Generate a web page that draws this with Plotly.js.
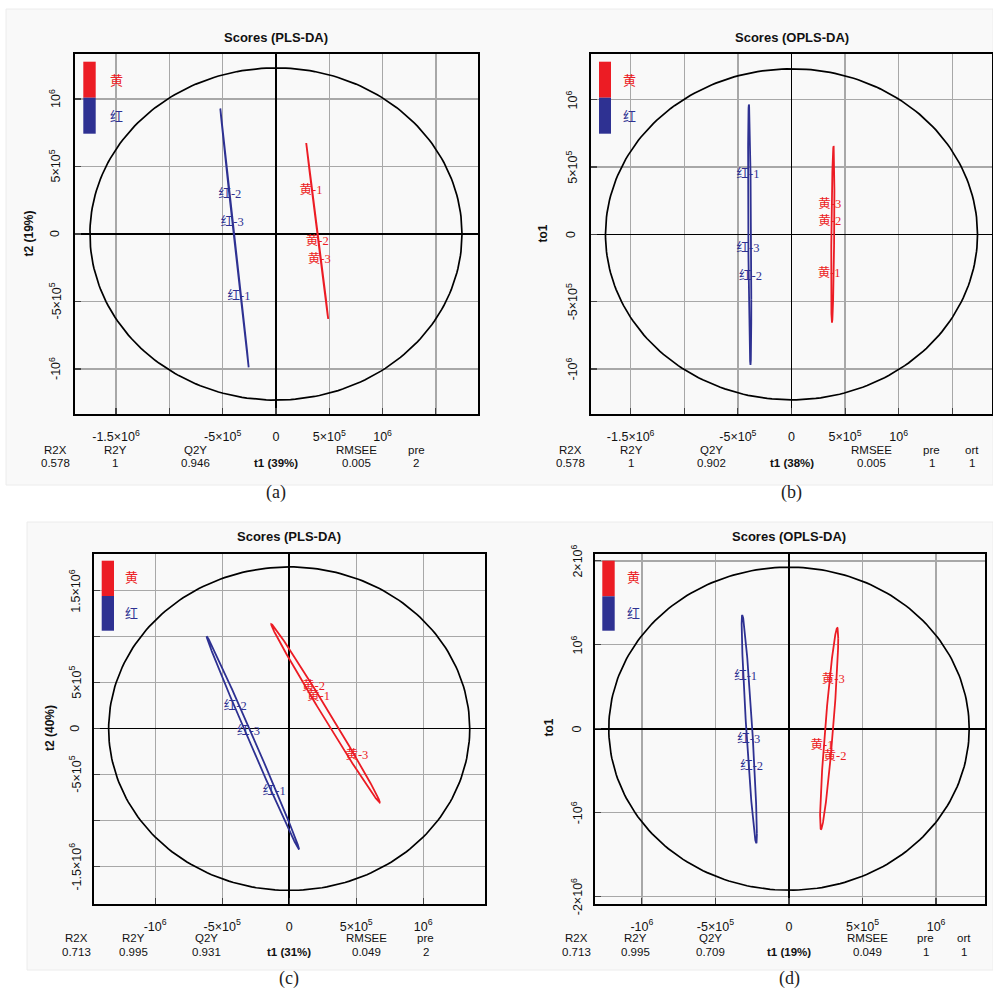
<!DOCTYPE html>
<html>
<head>
<meta charset="utf-8">
<script src="https://cdn.plot.ly/plotly-3.0.1.min.js"></script>
<style>html,body{margin:0;padding:0;background:#fff;}#chart{width:993px;height:990px;}</style>
</head>
<body>
<div id="chart"></div>
<script>
// ---------------- DATA ----------------
const panelTitles = ['Scores (PLS-DA)', 'Scores (OPLS-DA)', 'Scores (PLS-DA)', 'Scores (OPLS-DA)'];
const yTitles = ['t2 (19%)', 'to1', 't2 (40%)', 'to1'];
const xTitles = ['t1 (39%)', 't1 (38%)', 't1 (31%)', 't1 (19%)'];
const captions = ['(a)', '(b)', '(c)', '(d)'];
const groupNames = ['黄', '红'];

// sample scores (label positions)
const yellowLabels = ['黄-1', '黄-2', '黄-3'];
const redLabels = ['红-1', '红-2', '红-3'];
const a_yellow_x = [3.28e5, 3.88e5, 4.06e5];
const a_yellow_y = [3.20e5, -0.61e5, -1.92e5];
const a_red_x = [-3.47e5, -4.32e5, -4.10e5];
const a_red_y = [-4.68e5, 2.93e5, 0.83e5];
const b_yellow_x = [3.51e5, 3.57e5, 3.57e5];
const b_yellow_y = [-2.95e5, 0.94e5, 2.18e5];
const b_red_x = [-4.05e5, -3.82e5, -4.05e5];
const b_red_y = [4.40e5, -3.15e5, -1.09e5];
const c_yellow_x = [2.19e5, 1.81e5, 5.05e5];
const c_yellow_y = [3.41e5, 4.57e5, -2.93e5];
const c_red_x = [-1.12e5, -4.03e5, -3.04e5];
const c_red_y = [-6.91e5, 2.33e5, -0.39e5];
const d_yellow_x = [2.24e5, 3.13e5, 3.01e5];
const d_yellow_y = [-2.02e5, -3.37e5, 5.80e5];
const d_red_x = [-2.95e5, -2.54e5, -2.74e5];
const d_red_y = [6.19e5, -4.52e5, -1.35e5];

// group confidence ellipses: [centerX, centerY, halfRangeX, halfRangeY, correlation]
const a_yellow_ell = [3.87e5, 0.23e5, 1.03e5, 6.51e5, -0.9995];
const a_red_ell = [-3.89e5, -0.295e5, 1.33e5, 9.58e5, -0.9995];
const b_yellow_ell = [3.85e5, 0, 0.15e5, 6.56e5, 0.5];
const b_red_ell = [-3.90e5, -0.03e5, 0.15e5, 9.68e5, -0.5];
const c_yellow_ell = [2.71e5, 1.67e5, 4.05e5, 9.70e5, -0.9971];
const c_red_ell = [-2.71e5, -1.55e5, 3.45e5, 11.6e5, -0.9982];
const d_yellow_ell = [2.73e5, 0.02e5, 0.618e5, 12.0e5, 0.898];
const d_red_ell = [-2.70e5, -0.05e5, 0.517e5, 13.6e5, -0.918];

// Hotelling T2 ellipses: [halfX, halfY]
const hotelling = [[1.745e6, 1.23e6], [1.735e6, 1.23e6], [1.347e6, 1.76e6], [1.225e6, 1.925e6]];

// axis ranges
const xRanges = [[-1.885e6, 1.895e6], [-1.87e6, 1.87e6], [-1.46e6, 1.457e6], [-1.322e6, 1.329e6]];
const yRanges = [[-1.333e6, 1.333e6], [-1.335e6, 1.34e6], [-1.902e6, 1.906e6], [-2.083e6, 2.088e6]];

// ticks
const xTickValsAB = [-1.5e6, -1e6, -5e5, 0, 5e5, 1e6, 1.5e6];
const xTickTextAB = ['-1.5×10<sup>6</sup>', ' ', '-5×10<sup>5</sup>', '0', '5×10<sup>5</sup>', '10<sup>6</sup>', ' '];
const yTickValsAB = [-1e6, -5e5, 0, 5e5, 1e6];
const yTickTextAB = ['-10<sup>6</sup>', '-5×10<sup>5</sup>', '0', '5×10<sup>5</sup>', '10<sup>6</sup>'];
const xTickValsCD = [-1e6, -5e5, 0, 5e5, 1e6];
const xTickTextCD = ['-10<sup>6</sup>', '-5×10<sup>5</sup>', '0', '5×10<sup>5</sup>', '10<sup>6</sup>'];
const yTickValsC = [-1.5e6, -1e6, -5e5, 0, 5e5, 1e6, 1.5e6];
const yTickTextC = ['-1.5×10<sup>6</sup>', '', '-5×10<sup>5</sup>', '0', '5×10<sup>5</sup>', '', '1.5×10<sup>6</sup>'];
const yTickValsD = [-2e6, -1e6, 0, 1e6, 2e6];
const yTickTextD = ['-2×10<sup>6</sup>', '-10<sup>6</sup>', '0', '10<sup>6</sup>', '2×10<sup>6</sup>'];

// model summary
const statNamesPLS = ['R2X', 'R2Y', 'Q2Y', 'RMSEE', 'pre'];
const statNamesOPLS = ['R2X', 'R2Y', 'Q2Y', 'RMSEE', 'pre', 'ort'];
const a_stats = ['0.578', '1', '0.946', '0.005', '2'];
const b_stats = ['0.578', '1', '0.902', '0.005', '1', '1'];
const c_stats = ['0.713', '0.995', '0.931', '0.049', '2'];
const d_stats = ['0.713', '0.995', '0.709', '0.049', '1', '1'];

// ---------------- STYLE / LAYOUT ----------------
const W = 993, H = 990;
const YEL = '#ec1c24', RED = '#2e3192';
const px = x => x / W;
const py = y => 1 - y / H;

// plot boxes in pixels [left, right, top, bottom]
const boxes = [[75, 478, 54, 414], [591, 992, 54, 414], [93.5, 484.5, 553.5, 903.5], [594.5, 984.5, 553.5, 903.5]];
const yLabelXs = [55, 571.7, 75, 576.7];
const statXs = [[55, 115, 195.7, 356, 416], [570, 631, 711, 871.7, 931.7, 971.7], [76, 133.3, 206.7, 366.7, 425.7], [576, 635, 710, 867.3, 925.7, 964]];
const titleXs = [276, 791.5, 288.8, 789];
const zeroXs = [276, 791.7, 289, 789];
const rowYs = [[37.3, 450, 463.3, 492, 234], [37.3, 450, 463.3, 492, 234], [536, 938.3, 951.7, 978, 728], [536, 938.3, 951.7, 978, 728]];
const yTitleXs = [28.5, 542.5, 50, 548.5];
const legendX = [[83.3, 95.7, 107.5], [599, 611, 620.5], [101.7, 114, 123], [602.3, 614.7, 624.5]];
const legendY = [[61.7, 97.7, 133.7, 80.7, 116.7], [61.7, 97.7, 133.7, 80.7, 116.7], [560.7, 596, 630.7, 577.3, 613.3], [560.7, 596.3, 630.7, 577.3, 613.3]];

function ellipse(p) {
  const [cx, cy, hx, hy, r] = p;
  const s = Math.sqrt(1 - r * r);
  const xs = [], ys = [];
  for (let i = 0; i <= 240; i++) {
    const t = 2 * Math.PI * i / 240;
    xs.push(cx + hx * Math.cos(t));
    ys.push(cy + hy * (r * Math.cos(t) + s * Math.sin(t)));
  }
  return {x: xs, y: ys};
}

const yellowX = [a_yellow_x, b_yellow_x, c_yellow_x, d_yellow_x];
const yellowY = [a_yellow_y, b_yellow_y, c_yellow_y, d_yellow_y];
const redX = [a_red_x, b_red_x, c_red_x, d_red_x];
const redY = [a_red_y, b_red_y, c_red_y, d_red_y];
const yellowEll = [a_yellow_ell, b_yellow_ell, c_yellow_ell, d_yellow_ell];
const redEll = [a_red_ell, b_red_ell, c_red_ell, d_red_ell];
const xTV = [xTickValsAB, xTickValsAB, xTickValsCD, xTickValsCD];
const xTT = [xTickTextAB, xTickTextAB, xTickTextCD, xTickTextCD];
const yTV = [yTickValsAB, yTickValsAB, yTickValsC, yTickValsD];
const yTT = [yTickTextAB, yTickTextAB, yTickTextC, yTickTextD];
const statNames = [statNamesPLS, statNamesOPLS, statNamesPLS, statNamesOPLS];
const statVals = [a_stats, b_stats, c_stats, d_stats];

const traces = [];
const shapes = [];
const annotations = [];
const layout = {
  width: W, height: H,
  margin: {l: 0, r: 0, t: 0, b: 0},
  paper_bgcolor: '#ffffff',
  plot_bgcolor: 'rgba(0,0,0,0)',
  showlegend: false,
  font: {family: 'Liberation Sans, Arial, sans-serif', color: '#111'},
  shapes: shapes,
  annotations: annotations
};

// panel backgrounds
shapes.push({type: 'rect', xref: 'paper', yref: 'paper', x0: px(6), x1: px(993), y0: py(9), y1: py(485), fillcolor: '#f9f9f9', line: {color: '#ececec', width: 1}, layer: 'below'});
shapes.push({type: 'rect', xref: 'paper', yref: 'paper', x0: px(27), x1: px(993), y0: py(522), y1: py(970), fillcolor: '#f9f9f9', line: {color: '#ececec', width: 1}, layer: 'below'});

const labelFont = 'Liberation Serif, Noto Sans CJK SC, serif';
const tickFont = {family: 'Liberation Sans, Arial, sans-serif', size: 12.5, color: '#111'};

for (let i = 0; i < 4; i++) {
  const sfx = i === 0 ? '' : String(i + 1);
  const xa = 'x' + sfx, ya = 'y' + sfx;
  const [l, r, t, b] = boxes[i];
  const axCommon = {
    showgrid: true, gridcolor: '#a8a8a8', gridwidth: 1.3,
    zeroline: true, zerolinecolor: '#000', zerolinewidth: 1.6,
    showline: true, linecolor: '#000', linewidth: 2, mirror: true,
    ticks: 'inside', ticklen: 6, tickcolor: '#444', tickwidth: 1.2,
    tickmode: 'array', fixedrange: true, tickfont: tickFont
  };
  layout['xaxis' + sfx] = Object.assign({}, axCommon, {
    domain: [px(l), px(r)], range: xRanges[i], anchor: ya,
    tickvals: xTV[i], ticktext: xTT[i], ticklabelstandoff: 10
  });
  layout['yaxis' + sfx] = Object.assign({}, axCommon, {
    domain: [py(b), py(t)], range: yRanges[i], anchor: xa,
    tickvals: yTV[i], ticktext: yTT[i], showticklabels: false
  });
  // rotated y tick labels, positioned on the y axis scale
  yTV[i].forEach((v, k) => {
    if (!yTT[i][k]) return;
    annotations.push({xref: 'paper', yref: ya, x: px(yLabelXs[i]), y: v, text: yTT[i][k], textangle: -90, showarrow: false, xanchor: 'center', yanchor: 'middle', font: tickFont});
  });

  // Hotelling ellipse
  const hot = ellipse([0, 0, hotelling[i][0], hotelling[i][1], 0]);
  traces.push({x: hot.x, y: hot.y, xaxis: xa, yaxis: ya, mode: 'lines', line: {color: '#000', width: 1.7}, hoverinfo: 'skip'});
  // group ellipses
  const ey = ellipse(yellowEll[i]);
  traces.push({x: ey.x, y: ey.y, xaxis: xa, yaxis: ya, mode: 'lines', line: {color: YEL, width: 1.8}, hoverinfo: 'skip'});
  const er = ellipse(redEll[i]);
  traces.push({x: er.x, y: er.y, xaxis: xa, yaxis: ya, mode: 'lines', line: {color: RED, width: 1.8}, hoverinfo: 'skip'});
  // sample labels
  traces.push({x: yellowX[i], y: yellowY[i], text: yellowLabels, xaxis: xa, yaxis: ya, mode: 'text', textposition: 'middle center', textfont: {family: labelFont, size: 12.5, color: YEL}, hoverinfo: 'text'});
  traces.push({x: redX[i], y: redY[i], text: redLabels, xaxis: xa, yaxis: ya, mode: 'text', textposition: 'middle center', textfont: {family: labelFont, size: 12.5, color: RED}, hoverinfo: 'text'});

  // legend blocks
  const [lx0, lx1, ltx] = legendX[i];
  const [ly0, ly1, ly2, lt1, lt2] = legendY[i];
  shapes.push({type: 'rect', xref: 'paper', yref: 'paper', x0: px(lx0), x1: px(lx1), y0: py(ly1), y1: py(ly0), fillcolor: YEL, line: {width: 0}});
  shapes.push({type: 'rect', xref: 'paper', yref: 'paper', x0: px(lx0), x1: px(lx1), y0: py(ly2), y1: py(ly1), fillcolor: RED, line: {width: 0}});
  annotations.push({xref: 'paper', yref: 'paper', x: px(ltx), y: py(lt1), text: groupNames[0], showarrow: false, xanchor: 'left', yanchor: 'middle', font: {family: labelFont, size: 13, color: YEL}});
  annotations.push({xref: 'paper', yref: 'paper', x: px(ltx), y: py(lt2), text: groupNames[1], showarrow: false, xanchor: 'left', yanchor: 'middle', font: {family: labelFont, size: 13, color: RED}});

  const [tY, hY, vY, cY, midY] = rowYs[i];
  // title
  annotations.push({xref: 'paper', yref: 'paper', x: px(titleXs[i]), y: py(tY), text: '<b>' + panelTitles[i] + '</b>', showarrow: false, xanchor: 'center', yanchor: 'middle', font: {size: 13, color: '#111'}});
  // y title
  annotations.push({xref: 'paper', yref: 'paper', x: px(yTitleXs[i]), y: py(midY), text: '<b>' + yTitles[i] + '</b>', textangle: -90, showarrow: false, xanchor: 'center', yanchor: 'middle', font: {size: 12, color: '#111'}});
  // x title (in stats row)
  annotations.push({xref: 'paper', yref: 'paper', x: px(zeroXs[i]), y: py(vY), text: '<b>' + xTitles[i] + '</b>', showarrow: false, xanchor: 'center', yanchor: 'middle', font: {size: 11.5, color: '#111'}});
  // stats rows
  for (let k = 0; k < statNames[i].length; k++) {
    annotations.push({xref: 'paper', yref: 'paper', x: px(statXs[i][k]), y: py(hY), text: statNames[i][k], showarrow: false, xanchor: 'center', yanchor: 'middle', font: {size: 11.5, color: '#111'}});
    annotations.push({xref: 'paper', yref: 'paper', x: px(statXs[i][k]), y: py(vY), text: statVals[i][k], showarrow: false, xanchor: 'center', yanchor: 'middle', font: {size: 11.5, color: '#111'}});
  }
  // caption
  annotations.push({xref: 'paper', yref: 'paper', x: px(zeroXs[i]), y: py(cY), text: captions[i], showarrow: false, xanchor: 'center', yanchor: 'middle', font: {family: 'Liberation Serif, Times New Roman, serif', size: 18, color: '#222'}});
}

Plotly.newPlot('chart', traces, layout, {staticPlot: true, displayModeBar: false});
</script>
</body>
</html>
